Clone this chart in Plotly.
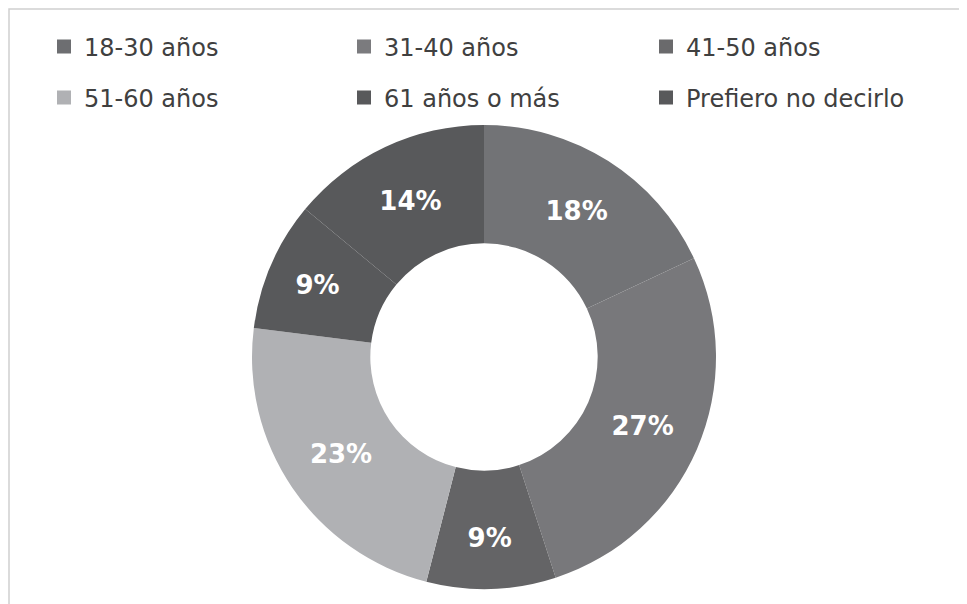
import plotly.graph_objects as go

# grupos de edad y porcentajes
labels = ["18-30 años", "31-40 años", "41-50 años", "51-60 años", "61 años o más", "Prefiero no decirlo"]
values = [18, 27, 9, 23, 9, 14]
colors = ["#727376", "#78787b", "#646466", "#b0b1b4", "#58595b", "#58595b"]
legend_colors = ["#6d6e71", "#7b7b7e", "#6a6a6c", "#b0b1b4", "#58595b", "#58595b"]

# page has an 8px body margin, so figure is a bit smaller than the window
W, H = 959, 596
cx, cy, r = 476, 349, 232

fig = go.Figure()

fig.add_trace(go.Pie(
    labels=labels,
    values=values,
    hole=0.49,
    sort=False,
    direction="clockwise",
    rotation=0,
    marker=dict(colors=colors, line=dict(width=0)),
    texttemplate="%{value}%",
    textposition="inside",
    insidetextorientation="horizontal",
    textfont=dict(family="DejaVu Sans", size=26, color="white", weight="bold"),
    showlegend=False,
    domain=dict(x=[(cx - r) / W, (cx + r) / W], y=[(H - cy - r) / H, (H - cy + r) / H]),
))

# one legend per entry so the 3x2 grid sits where the reference has it
leg_x = [36, 336, 638, 36, 336, 638]
leg_y = [39, 39, 39, 90, 90, 90]
layout_legends = {}
for i, (lab, col) in enumerate(zip(labels, legend_colors)):
    name = "legend" if i == 0 else "legend%d" % (i + 1)
    fig.add_trace(go.Scatter(
        x=[None], y=[None], mode="markers", name=lab,
        marker=dict(symbol="square", size=14, color=col),
        legend=name,
    ))
    layout_legends[name] = dict(
        orientation="h", xanchor="left", yanchor="middle",
        x=leg_x[i] / W, y=1 - leg_y[i] / H,
        font=dict(family="DejaVu Sans", size=24, color="#404040"),
        bgcolor="rgba(0,0,0,0)", itemclick=False, itemdoubleclick=False,
    )

fig.update_layout(
    width=W, height=H,
    margin=dict(l=0, r=0, t=0, b=0),
    paper_bgcolor="white", plot_bgcolor="white",
    xaxis=dict(visible=False), yaxis=dict(visible=False),
    shapes=[dict(type="rect", xref="paper", yref="paper",
                 x0=1 / W, x1=1.05, y0=-0.05, y1=1 - 1 / H,
                 line=dict(color="#d0d0d0", width=1.5))],
    **layout_legends,
)

fig.write_html("out.html")
